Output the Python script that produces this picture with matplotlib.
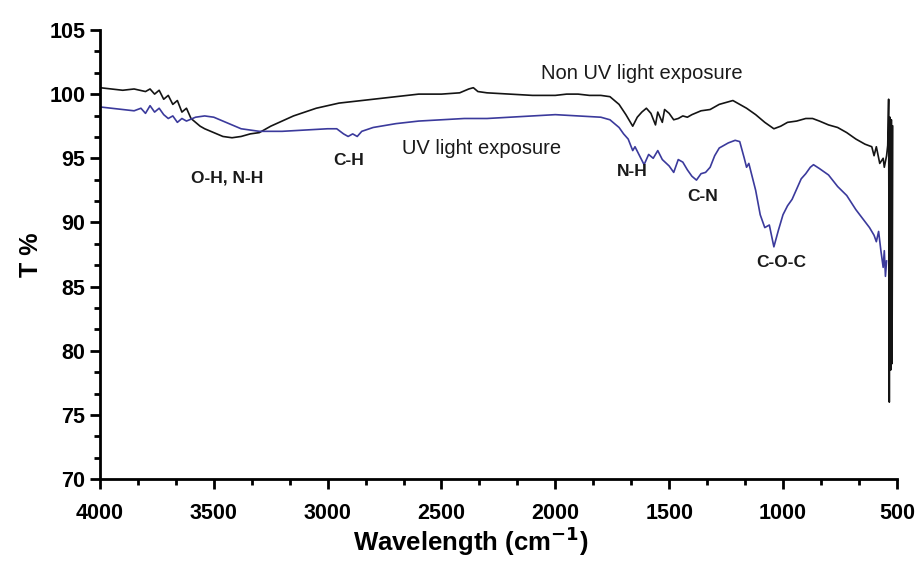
import matplotlib
matplotlib.use("Agg")
import matplotlib.pyplot as plt
from matplotlib.ticker import AutoMinorLocator

plt.rcParams['font.family'] = ['Liberation Sans', 'DejaVu Sans']

# FTIR transmittance, sample without UV exposure
wn_non_uv = [4000, 3950, 3900, 3850, 3800, 3780, 3760, 3740, 3720, 3700,
             3680, 3660, 3640, 3620, 3600, 3580, 3560, 3540, 3500, 3460,
             3420, 3380, 3340, 3300, 3250, 3200, 3150, 3100, 3050, 3000,
             2950, 2900, 2850, 2800, 2700, 2600, 2500, 2420, 2380, 2360,
             2340, 2300, 2200, 2100, 2000, 1950, 1900, 1850, 1800, 1760,
             1720, 1690, 1670, 1660, 1640, 1620, 1600, 1580, 1560, 1550,
             1530, 1520, 1500, 1480, 1460, 1440, 1420, 1400, 1360, 1320,
             1280, 1240, 1220, 1200, 1160, 1120, 1080, 1040, 1010, 980,
             940, 900, 870, 840, 800, 760, 720, 680, 640, 610,
             600, 590, 575, 560, 555, 545, 540, 536, 533, 530,
             527, 524, 521, 518]
t_non_uv = [100.5, 100.4, 100.3, 100.4, 100.2, 100.4, 100.0, 100.3, 99.6, 99.9,
            99.2, 99.5, 98.6, 98.9, 98.1, 97.8, 97.5, 97.3, 97.0, 96.7,
            96.6, 96.7, 96.9, 97.0, 97.5, 97.9, 98.3, 98.6, 98.9, 99.1,
            99.3, 99.4, 99.5, 99.6, 99.8, 100.0, 100.0, 100.1, 100.4, 100.5,
            100.2, 100.1, 100.0, 99.9, 99.9, 100.0, 100.0, 99.9, 99.9, 99.8,
            99.2, 98.4, 97.8, 97.5, 98.2, 98.6, 98.9, 98.5, 97.6, 98.6,
            97.8, 98.8, 98.5, 98.0, 98.1, 98.3, 98.2, 98.4, 98.7, 98.8,
            99.2, 99.4, 99.5, 99.3, 98.9, 98.4, 97.8, 97.3, 97.5, 97.8,
            97.9, 98.1, 98.1, 97.9, 97.6, 97.4, 97.0, 96.5, 96.1, 95.9,
            95.2, 95.9, 94.6, 95.0, 94.3, 95.2, 96.0, 99.6, 76.0, 98.2,
            78.5, 98.0, 79.0, 97.5]

# FTIR transmittance, sample after UV exposure
wn_uv = [4000, 3950, 3900, 3850, 3820, 3800, 3780, 3760, 3740, 3720,
         3700, 3680, 3660, 3640, 3620, 3580, 3540, 3500, 3460, 3420,
         3380, 3340, 3300, 3250, 3200, 3100, 3000, 2960, 2930, 2910,
         2890, 2870, 2850, 2800, 2700, 2600, 2500, 2400, 2300, 2200,
         2100, 2000, 1900, 1800, 1760, 1720, 1700, 1680, 1660, 1650,
         1630, 1610, 1590, 1570, 1550, 1530, 1500, 1480, 1460, 1440,
         1420, 1400, 1380, 1360, 1340, 1320, 1300, 1280, 1260, 1240,
         1210, 1190, 1170, 1160, 1150, 1120, 1100, 1080, 1060, 1040,
         1020, 1000, 980, 960, 940, 920, 900, 880, 866, 840,
         800, 760, 720, 680, 650, 620, 600, 590, 580, 570,
         560, 555, 550, 545]
t_uv = [99.0, 98.9, 98.8, 98.7, 98.9, 98.5, 99.1, 98.6, 98.9, 98.4,
        98.1, 98.3, 97.8, 98.1, 97.9, 98.2, 98.3, 98.2, 97.9, 97.6,
        97.3, 97.2, 97.1, 97.1, 97.1, 97.2, 97.3, 97.3, 96.9, 96.7,
        96.9, 96.7, 97.1, 97.4, 97.7, 97.9, 98.0, 98.1, 98.1, 98.2,
        98.3, 98.4, 98.3, 98.2, 98.0, 97.4, 96.9, 96.5, 95.6, 95.9,
        95.2, 94.5, 95.3, 95.0, 95.6, 94.9, 94.4, 93.9, 94.9, 94.7,
        94.1, 93.6, 93.3, 93.8, 93.9, 94.3, 95.2, 95.8, 96.0, 96.2,
        96.4, 96.3, 95.0, 94.3, 94.6, 92.5, 90.6, 89.6, 89.8, 88.1,
        89.4, 90.6, 91.3, 91.8, 92.6, 93.4, 93.8, 94.3, 94.5, 94.2,
        93.7, 92.8, 92.1, 91.0, 90.3, 89.6, 89.0, 88.5, 89.3, 87.8,
        86.5, 87.8, 85.8, 87.0]

# Band assignments: (text, wavenumber, transmittance)
band_labels = ["O-H, N-H", "C-H", "N-H", "C-N", "C-O-C"]
band_wn = [3440, 2906, 1660, 1354, 1008]
band_t = [93.5, 94.8, 94.0, 92.0, 86.9]

series_labels = ["Non UV light exposure", "UV light exposure"]
series_label_wn = [2062, 2674]
series_label_t = [101.6, 95.8]

x_ticks = [4000, 3500, 3000, 2500, 2000, 1500, 1000, 500]
y_ticks = [70, 75, 80, 85, 90, 95, 100, 105]

fig = plt.figure(figsize=(9.17, 5.65), dpi=100)
ax = fig.add_axes([0.109, 0.152, 0.869, 0.795])

ax.plot(wn_non_uv, t_non_uv, color='#141414', lw=1.2)
ax.plot(wn_uv, t_uv, color='#3b3a9c', lw=1.2)

for txt, x, y in zip(band_labels, band_wn, band_t):
    ax.text(x, y, txt, ha='center', va='center', fontsize=12.5,
            fontweight='bold', color='#1a1a1a')

for txt, x, y in zip(series_labels, series_label_wn, series_label_t):
    ax.text(x, y, txt, ha='left', va='center', fontsize=14.5, color='#1a1a1a')

ax.set_xlim(4000, 500)
ax.set_ylim(70, 105)
ax.set_xticks(x_ticks)
ax.set_yticks(y_ticks)
ax.xaxis.set_minor_locator(AutoMinorLocator(3))
ax.yaxis.set_minor_locator(AutoMinorLocator(3))

for side in ['top', 'right']:
    ax.spines[side].set_visible(False)
for side in ['left', 'bottom']:
    ax.spines[side].set_linewidth(2)

ax.tick_params(which='major', direction='out', length=7, width=2,
               labelsize=15.5)
ax.tick_params(axis='x', which='major', pad=10)
ax.tick_params(which='minor', direction='out', length=4, width=2)
for lab in ax.get_xticklabels() + ax.get_yticklabels():
    lab.set_fontweight('bold')

ax.set_xlabel('Wavelength (cm$^{\\mathbf{-1}}$)', fontsize=18.5,
              fontweight='bold')
ax.xaxis.set_label_coords(0.465, -0.1)
ax.set_ylabel('T %', fontsize=18, fontweight='bold')
ax.yaxis.set_label_coords(-0.072, 0.5)

fig.savefig('out.png', dpi=100)
